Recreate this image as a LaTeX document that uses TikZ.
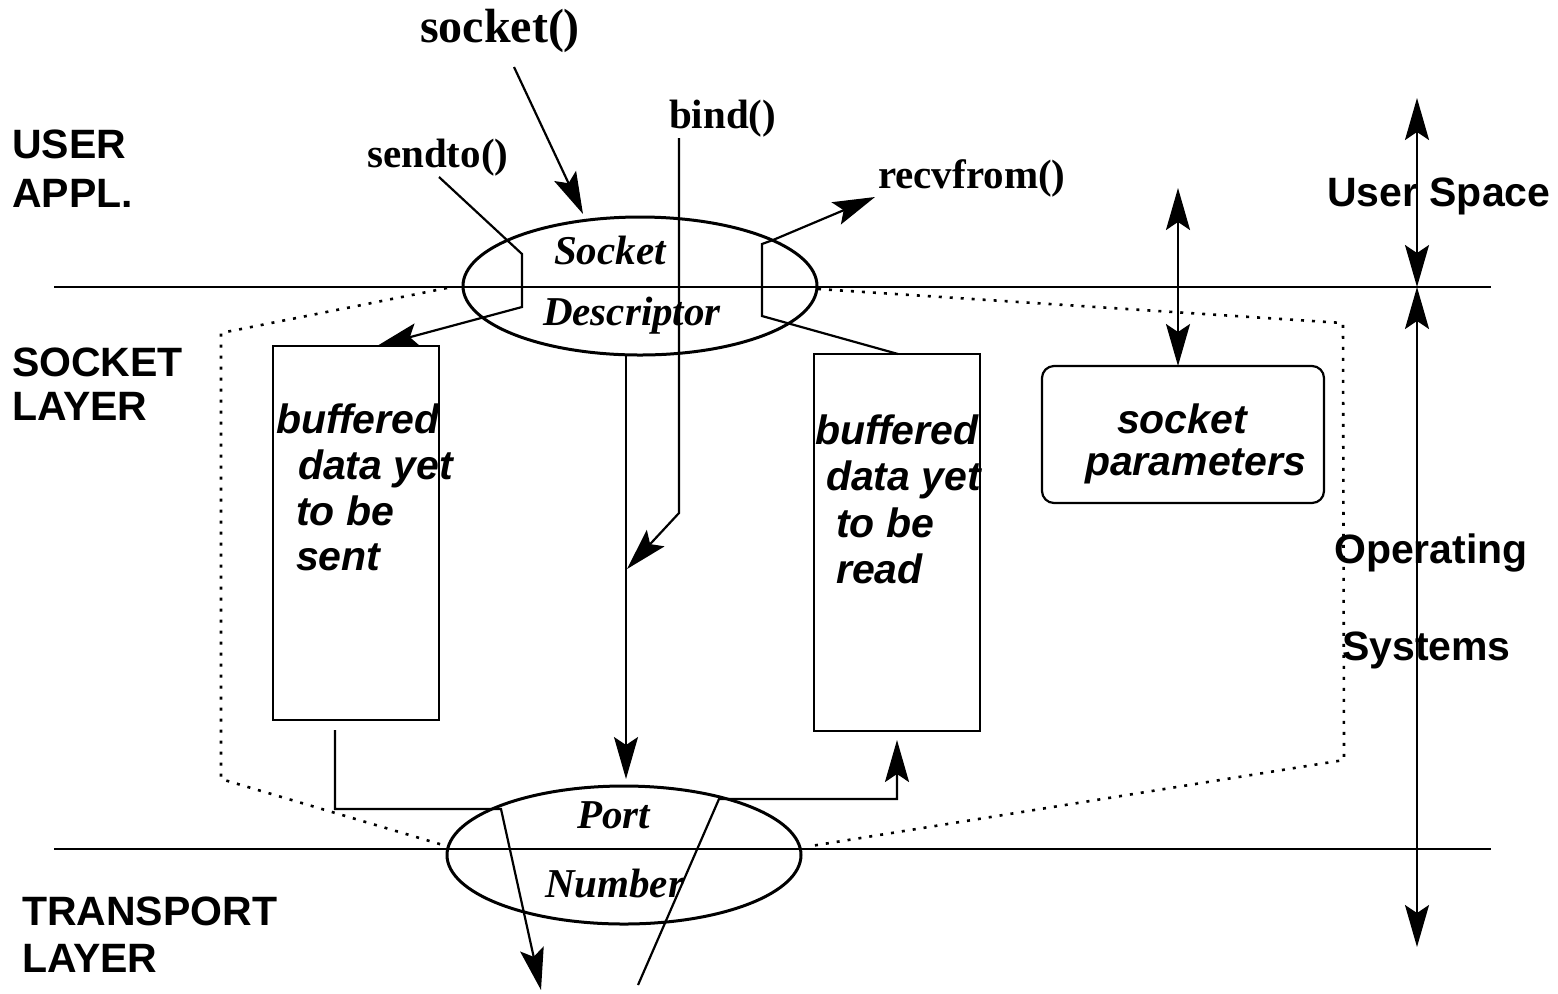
\documentclass[tikz,border=0pt]{standalone}
\usepackage{fontspec}
\setmainfont{Liberation Serif}
\setsansfont{Liberation Sans}
\usetikzlibrary{arrows.meta,shapes.geometric}
\begin{document}
\begin{tikzpicture}[x=0.5pt,y=-0.5pt,line width=1.1pt,
  layerlbl/.style={font=\fontsize{20.5}{24}\selectfont\sffamily\bfseries,inner sep=0,anchor=base west},
  buftxt/.style={font=\fontsize{20.5}{24}\selectfont\sffamily\bfseries\itshape,inner sep=0,anchor=base west},
  calltxt/.style={font=\fontsize{20.5}{24}\selectfont\bfseries,inner sep=0,anchor=base west},
  elltxt/.style={font=\fontsize{20.5}{24}\selectfont\bfseries\itshape,inner sep=0,anchor=base west},
  oval/.style={draw,ellipse,line width=1.5pt,minimum width=177pt,minimum height=69pt,inner sep=0},
  bufbox/.style={draw,rectangle,minimum width=83pt,inner sep=0},
  head/.style={Stealth[length=21pt,width=12pt,inset=4pt]},
  arr/.style={-{Stealth[length=21pt,width=12pt,inset=4pt]}},
  dbl/.style={{Stealth[length=21pt,width=12pt,inset=4pt]}-{Stealth[length=21pt,width=12pt,inset=4pt]}},
  frame/.style={line width=1.3pt,dash pattern=on 1.5pt off 4pt},
]
\useasboundingbox (0,0) rectangle (1558,993);

% layer boundaries
\coordinate (l1a) at (54,287);  \coordinate (l1b) at (1491,287);
\coordinate (l2a) at (54,849);  \coordinate (l2b) at (1491,849);
\draw (l1a) -- (l1b);
\draw (l2a) -- (l2b);

% layer names
\node[layerlbl] (ua) at (11,158) {USER};
\node[layerlbl] (ub) at (11,207) {APPL.};
\node[layerlbl] (sa) at (11,376) {SOCKET};
\node[layerlbl] (sb) at (11,420) {LAYER};
\node[layerlbl] (ta) at (21,925) {TRANSPORT};
\node[layerlbl] (tb) at (21,972) {LAYER};

% space names on the right
\node[layerlbl] (us) at (1326,206) {User Space};
\node[layerlbl] (os1) at (1333,563) {Operating};
\node[layerlbl] (os2) at (1341,660) {Systems};

% socket descriptor and port number
\node[oval] (sock) at (640,286) {};
\node[elltxt] (sockt) at (553,264) {Socket};
\node[elltxt] (desct) at (542,325) {Descriptor};
\node[oval] (port) at (624,855) {};
\node[elltxt] (portt) at (576,828) {Port};
\node[elltxt] (numt) at (544,897) {Number};

% buffers and parameters
\node[bufbox,minimum height=187pt] (sendbuf) at (356,533) {};
\node[buftxt] (s1) at (275,433) {buffered};
\node[buftxt] (s2) at (297,479) {data yet};
\node[buftxt] (s3) at (295,525) {to be};
\node[buftxt] (s4) at (295,570) {sent};
\node[bufbox,minimum height=188.5pt] (recvbuf) at (897,542.5) {};
\node[buftxt] (r1) at (814,444) {buffered};
\node[buftxt] (r2) at (825,490) {data yet};
\node[buftxt] (r3) at (835,537) {to be};
\node[buftxt] (r4) at (835,583) {read};
\node[draw,rectangle,rounded corners=6pt,minimum width=141pt,minimum height=68.5pt,inner sep=0] (params) at (1183,434.5) {};
\node[buftxt] (p1) at (1116,433) {socket};
\node[buftxt] (p2) at (1084,475) {parameters};

% system calls
\node[font=\fontsize{24}{28}\selectfont\bfseries,inner sep=0,anchor=base] (sockcall) at (500,42) {socket()};
\node[calltxt] (bindcall) at (668,128) {bind()};
\node[calltxt] (sendcall) at (366,167) {sendto()};
\node[calltxt] (recvcall) at (877,188) {recvfrom()};

% kernel boundary (dotted)
\coordinate (fl0) at (447,288); \coordinate (fl1) at (221,333);
\coordinate (fl2) at (221,779); \coordinate (fl3) at (443,845);
\coordinate (fr0) at (818,289); \coordinate (fr1) at (1343,323);
\coordinate (fr2) at (1344,760); \coordinate (fr3) at (811,846);
\draw[frame] (fl0) -- (fl1) -- (fl2) -- (fl3);
\draw[frame] (fr0) -- (fr1) -- (fr2) -- (fr3);

% socket() creates the descriptor
\coordinate (sc0) at (514,67); \coordinate (sc1) at (583,214);
\draw[arr] (sc0) -- (sc1);

% sendto() into the send buffer
\coordinate (sd0) at (439,177); \coordinate (sd1) at (522,254);
\coordinate (sd2) at (522,307); \coordinate (sd3) at (377,346);
\draw[arr] (sd0) -- (sd1) -- (sd2) -- (sd3);

% recvfrom() out of the receive buffer
\coordinate (rv0) at (898,354); \coordinate (rv1) at (762,316);
\coordinate (rv2) at (762,244); \coordinate (rv3) at (773,240);
\coordinate (rv4) at (875,197);
\draw[arr] (rv0) -- (rv1) -- (rv2) -- (rv3) -- (rv4);

% descriptor to port
\coordinate (dp0) at (626,354); \coordinate (dp1) at (626,779);
\draw[arr] (dp0) -- (dp1);

% bind()
\coordinate (bd0) at (679,138); \coordinate (bd1) at (679,513);
\coordinate (bd2) at (627,569);
\draw[arr] (bd0) -- (bd1) -- (bd2);

% send buffer down to transport
\coordinate (so0) at (335,730); \coordinate (so1) at (335,809);
\coordinate (so2) at (501,809); \coordinate (so3) at (541,990);
\draw[arr] (so0) -- (so1) -- (so2) -- (so3);

% transport up to receive buffer
\coordinate (ri0) at (638,985); \coordinate (ri1) at (719,799);
\coordinate (ri2) at (897,799); \coordinate (ri3) at (897,740);
\draw[arr] (ri0) -- (ri1) -- (ri2) -- (ri3);

% socket parameters access
\coordinate (pa0) at (1178,188); \coordinate (pa1) at (1178,366);
\draw[dbl] (pa0) -- (pa1);

% space extents
\coordinate (ax0) at (1417,98); \coordinate (ax1) at (1417,287);
\coordinate (ax2) at (1417,947);
\draw[dbl] (ax0) -- (ax1);
\draw[dbl] (ax1) -- (ax2);
\end{tikzpicture}
\end{document}
